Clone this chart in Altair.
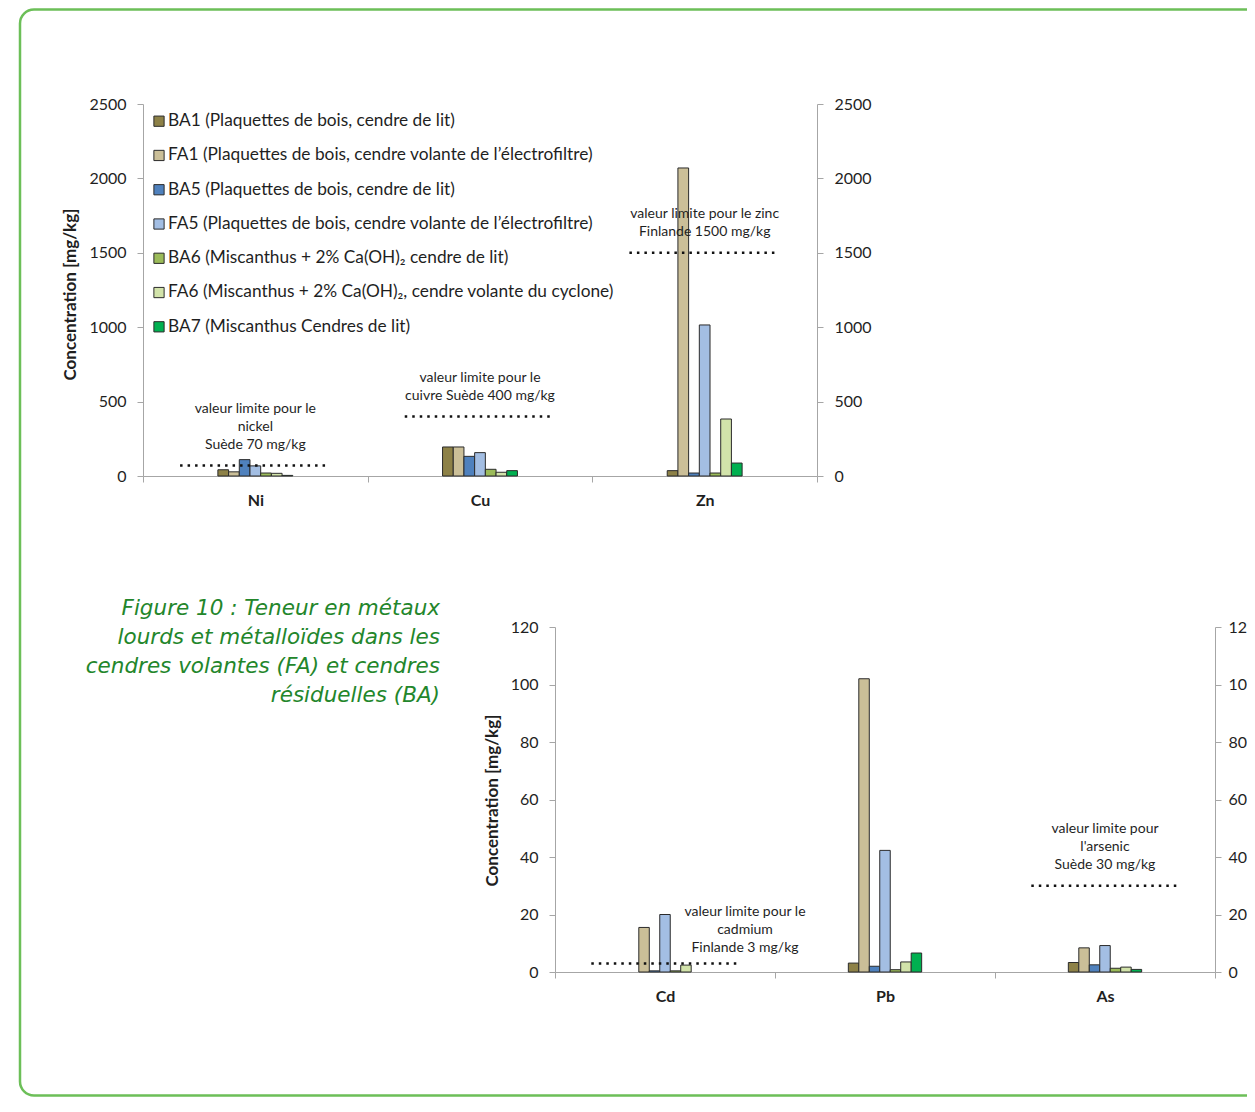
import altair as alt
import pandas as pd

# ------------------------------------------------------------------ data
series = ["BA1", "FA1", "BA5", "FA5", "BA6", "FA6", "BA7"]
series_labels = [
    "BA1 (Plaquettes de bois, cendre de lit)",
    "FA1 (Plaquettes de bois, cendre volante de l’électrofiltre)",
    "BA5 (Plaquettes de bois, cendre de lit)",
    "FA5 (Plaquettes de bois, cendre volante de l’électrofiltre)",
    "BA6 (Miscanthus + 2% Ca(OH)₂ cendre de lit)",
    "FA6 (Miscanthus + 2% Ca(OH)₂, cendre volante du cyclone)",
    "BA7 (Miscanthus Cendres de lit)",
]

metals_top = ["Ni", "Cu", "Zn"]
ni = [42, 28, 110, 68, 20, 18, 4]
cu = [195, 195, 132, 157, 45, 25, 36]
zn = [36, 2070, 20, 1015, 20, 383, 87]

metals_bottom = ["Cd", "Pb", "As"]
cd = [None, 15.5, 0.4, 20.0, 0.4, 2.4, None]
pb = [3.1, 102.0, 2.0, 42.3, 0.8, 3.5, 6.6]
as_ = [3.3, 8.4, 2.5, 9.2, 1.3, 1.7, 0.9]

limit_metals_top = ["Ni", "Cu", "Zn"]
limit_values_top = [70, 400, 1500]
limit_texts_top = [
    "valeur limite pour le\nnickel\nSuède 70 mg/kg",
    "valeur limite pour le\ncuivre Suède 400 mg/kg",
    "valeur limite pour le zinc\nFinlande 1500 mg/kg",
]
limit_metals_bottom = ["Cd", "As"]
limit_values_bottom = [3, 30]
limit_texts_bottom = [
    "valeur limite pour le\ncadmium\nFinlande 3 mg/kg",
    "valeur limite pour\nl'arsenic\nSuède 30 mg/kg",
]

y_ticks_top = [0, 500, 1000, 1500, 2000, 2500]
y_ticks_bottom = [0, 20, 40, 60, 80, 100, 120]
y_title = "Concentration [mg/kg]"
caption = ("Figure 10 : Teneur en métaux\nlourds et métalloïdes dans les\n"
           "cendres volantes (FA) et cendres\nrésiduelles (BA)")

# ------------------------------------------------------------------ styles / layout
fill_colors = ["#8D8147", "#CBBF98", "#4F81BD", "#A3BEE3", "#9BBB59", "#D2E3AA", "#00B050"]
OUTLINE = "#2B2B2B"
GREY = "#A6A6A6"
TXT = "#1F1F1F"
FONT = "Lato"
GREEN_FRAME = "#6CBF58"
GREEN_TEXT = "#23862B"

W, H = 1239, 1090
TOP = {"x0": 135, "x1": 809, "y0": 468, "y1": 96, "title_x": 62, "title_y": 286,
       "pad_left": 11, "pad_right": 11}
BOT = {"x0": 547, "x1": 1207, "y0": 964, "y1": 619, "title_x": 484, "title_y": 792,
       "pad_left": 11, "pad_right": 7}
LIMIT_SPAN = (0.165, 0.83)
GROUP_SPAN = (1 / 3, 2 / 3)          # bars occupy the middle third of each category
ANN_FS, ANN_LH = 14, 18
ANN_GAP = 21                          # gap between limit line and last text line
ANN_SHIFT = {"Cd": (80, 15.4)}        # (dx, gap) overrides

color_scale = alt.Scale(domain=series, range=fill_colors)


def long_table(metals, arrays):
    rows = []
    for m, arr in zip(metals, arrays):
        for s, v in zip(series, arr):
            rows.append({"metal": m, "series": s, "value": v})
    return pd.DataFrame(rows)


def y_axis(orient, offset, ticks, pad, **kw):
    return alt.Axis(orient=orient, offset=offset, values=ticks, format="d",
                    tickSize=6, tickColor=GREY, domainColor=GREY, grid=False,
                    labelFont=FONT, labelFontSize=16, labelColor=TXT, labelPadding=pad,
                    **kw)


def panel(metals, arrays, ticks, lim_metals, lim_values, lim_texts, f):
    xs = alt.Scale(domain=metals, range=[f["x0"], f["x1"]], paddingInner=0, paddingOuter=0)
    ys = alt.Scale(domain=[ticks[0], ticks[-1]], range=[f["y0"], f["y1"]], nice=False, zero=True)
    band = (f["x1"] - f["x0"]) / len(metals)
    layers = []

    bars = alt.Chart(long_table(metals, arrays)).mark_bar(
        stroke=OUTLINE, strokeWidth=1
    ).encode(
        x=alt.X("metal:N", scale=xs, title=None,
                axis=alt.Axis(orient="bottom", offset=f["y0"] - H, tickBand="extent",
                              labelAngle=0, labelFont=FONT, labelFontSize=16,
                              labelFontWeight="bold", labelColor=TXT, labelPadding=10,
                              tickSize=6, tickColor=GREY, domainColor=GREY, grid=False)),
        xOffset=alt.XOffset("series:N", scale=alt.Scale(
            domain=series, paddingInner=0, paddingOuter=0,
            range=[band * GROUP_SPAN[0], band * GROUP_SPAN[1]])),
        y=alt.Y("value:Q", scale=ys,
                axis=y_axis("left", -f["x0"], ticks, f["pad_left"], title=y_title,
                            titleX=f["title_x"] - f["x0"], titleY=f["title_y"],
                            titleAngle=270, titleBaseline="middle", titleAlign="center",
                            titleFont=FONT, titleFontSize=17, titleFontWeight="bold",
                            titleColor=TXT)),
        fill=alt.Fill("series:N", scale=color_scale, legend=None),
    )
    layers.append(bars)

    lim = pd.DataFrame({"metal": lim_metals, "limit": lim_values, "label": lim_texts})
    lim["idx"] = [metals.index(m) for m in lim_metals]
    rules = alt.Chart(lim).transform_calculate(
        xa=f"datum.idx + {LIMIT_SPAN[0]}", xb=f"datum.idx + {LIMIT_SPAN[1]}"
    ).mark_rule(color="#111111", strokeWidth=2.5, strokeDash=[2.5, 5]).encode(
        x=alt.X("xa:Q", scale=alt.Scale(domain=[0, len(metals)], range=[f["x0"], f["x1"]],
                                        nice=False, zero=False), axis=None),
        x2="xb:Q",
        y=alt.Y("limit:Q", scale=ys,
                axis=y_axis("right", f["x1"] - W, ticks, f["pad_right"], title=None)),
    )
    layers.append(rules)

    for m, v, t in zip(lim_metals, lim_values, lim_texts):
        dx, gap = ANN_SHIFT.get(m, (0, ANN_GAP))
        n_lines = t.count("\n") + 1
        dy = -gap - (n_lines - 1) * ANN_LH + 0.3 * ANN_FS
        ann = alt.Chart(pd.DataFrame({"metal": [m], "limit": [v], "label": [t]})).mark_text(
            align="center", baseline="alphabetic", lineBreak="\n", font=FONT,
            fontSize=ANN_FS, lineHeight=ANN_LH, color=TXT, dx=dx, dy=dy
        ).encode(
            x=alt.X("metal:N", scale=xs, axis=None),
            y=alt.Y("limit:Q", scale=ys, axis=None),
            text="label:N",
        )
        layers.append(ann)
    return layers


# frame
frame = alt.Chart(pd.DataFrame({"k": [0]})).mark_rect(
    fill="transparent", stroke=GREEN_FRAME, strokeWidth=2.5, cornerRadius=14
).encode(x=alt.value(12), x2=alt.value(1300), y=alt.value(1.5), y2=alt.value(1087.5))

# caption
cap = alt.Chart(pd.DataFrame({"t": [caption]})).mark_text(
    align="right", baseline="alphabetic", lineBreak="\n", font="DejaVu Sans",
    fontStyle="italic", fontSize=21.5, lineHeight=29, color=GREEN_TEXT
).encode(x=alt.value(432), y=alt.value(607), text="t:N")

# legend (top chart)
leg_df = pd.DataFrame({"series": series, "label": series_labels})
leg_y = alt.Y("series:N", scale=alt.Scale(type="point", domain=series, range=[113.0, 318.6], padding=0),
              axis=None)
leg_sw = alt.Chart(leg_df).mark_square(size=105, stroke=OUTLINE, strokeWidth=1, opacity=1).encode(
    x=alt.value(151), y=alt.Y("series:N", scale=alt.Scale(type="point", domain=series,
                                                           range=[113.2, 318.8], padding=0), axis=None),
    fill=alt.Fill("series:N", scale=color_scale, legend=None))
leg_tx = alt.Chart(leg_df).mark_text(
    align="left", baseline="middle", font=FONT, fontSize=17.3, color=TXT
).encode(x=alt.value(160), y=leg_y, text="label:N")

layers = [frame, cap]
layers += panel(metals_top, [ni, cu, zn], y_ticks_top, limit_metals_top,
                limit_values_top, limit_texts_top, TOP)
layers += panel(metals_bottom, [cd, pb, as_], y_ticks_bottom, limit_metals_bottom,
                limit_values_bottom, limit_texts_bottom, BOT)
layers += [leg_sw, leg_tx]

chart = alt.layer(*layers).resolve_scale(
    x="independent", y="independent", xOffset="independent", fill="independent"
).resolve_axis(
    x="independent", y="independent"
).properties(
    width=W, height=H, autosize="none", padding=0
).configure_view(strokeWidth=0)

chart.save("out.html", embed_options={"renderer": "svg", "actions": False})
